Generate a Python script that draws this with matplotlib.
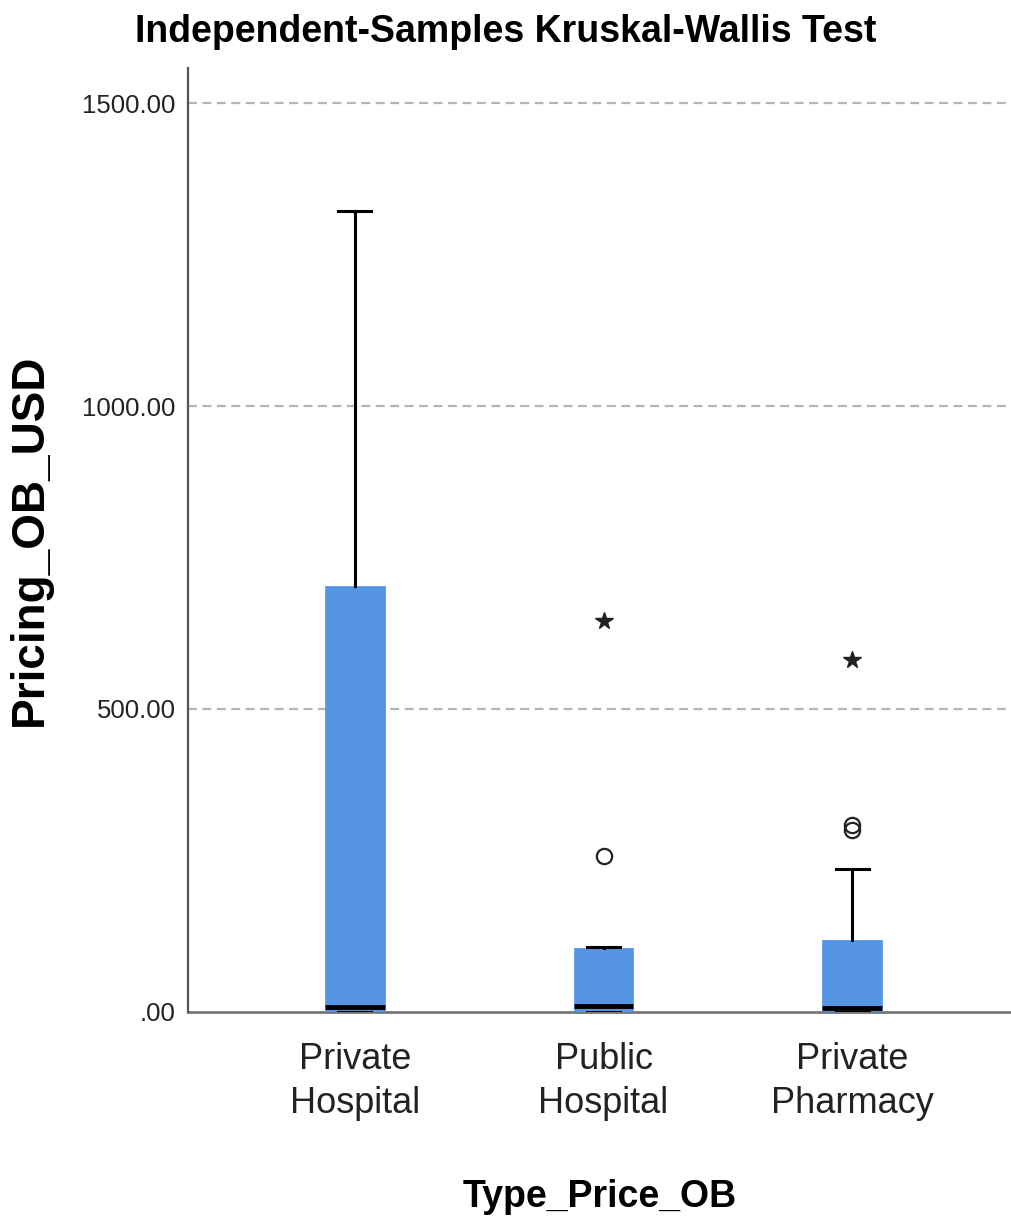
import matplotlib
matplotlib.use('Agg')
import matplotlib.pyplot as plt
from matplotlib.ticker import FuncFormatter

# box summary per group
groups = ['Private\nHospital', 'Public\nHospital', 'Private\nPharmacy']
q1 = [0, 0, 0]
med = [8, 10, 6]
q3 = [703, 105, 119]
whislo = [0, 0, 0]
whishi = [1322, 107, 236]

# outliers: circles (o) and extremes (*)
circ_x = [2, 3, 3]
circ_y = [257, 300, 308]
star_x = [2, 3]
star_y = [645, 581]

yticks = [0, 500, 1000, 1500]

box_color = '#5594e2'
plt.rcParams['font.family'] = ['Liberation Sans', 'DejaVu Sans']

fig = plt.figure(figsize=(10.11, 12.26), dpi=100)
ax = fig.add_axes([0.186, 0.1746, 0.814, 0.77])

stats = []
for i in range(len(groups)):
    stats.append(dict(med=med[i], q1=q1[i], q3=q3[i], whislo=whislo[i],
                      whishi=whishi[i], fliers=[], label=groups[i]))

ax.bxp(stats, positions=[1, 2, 3], widths=0.241, capwidths=0.133,
       patch_artist=True, showfliers=False,
       boxprops=dict(facecolor=box_color, edgecolor=box_color, linewidth=0.5),
       medianprops=dict(color='black', linewidth=3.5),
       whiskerprops=dict(color='black', linewidth=2.2),
       capprops=dict(color='black', linewidth=2.2))

ax.plot(circ_x, circ_y, linestyle='none', marker='o', markersize=11,
        markerfacecolor='none', markeredgecolor='#222222', markeredgewidth=1.6, zorder=5)
ax.plot(star_x, star_y, linestyle='none', marker='*', markersize=13,
        color='#222222', zorder=5)

ax.set_xlim(0.329, 3.639)
ax.set_ylim(0, 1558)
ax.set_yticks(yticks)

def fmt(v, pos):
    s = '%.2f' % v
    if s.startswith('0.'):
        s = s[1:]
    return s

ax.yaxis.set_major_formatter(FuncFormatter(fmt))
ax.tick_params(axis='y', length=0, pad=9, labelsize=18.5, colors='#222222')
ax.tick_params(axis='x', length=0, pad=22, labelsize=26, colors='#222222')
for t in ax.get_xticklabels():
    t.set_linespacing(1.3)

for y in yticks[1:]:
    ax.axhline(y, color='#b5b5b5', linestyle=(0, (4, 2.5)), linewidth=1.6, zorder=0)

for s in ['top', 'right']:
    ax.spines[s].set_visible(False)
ax.spines['left'].set_color('#555555')
ax.spines['left'].set_linewidth(1.6)
ax.spines['bottom'].set_color('#777777')
ax.spines['bottom'].set_linewidth(2)
ax.spines['bottom'].set_zorder(0.5)

ax.set_xlabel('Type_Price_OB', fontsize=27, fontweight='bold')
ax.xaxis.label.set_va('center')
ax.xaxis.set_label_coords(0.5, (1012 - 1197) / 944)
ax.set_ylabel('Pricing_OB_USD', fontsize=33, fontweight='bold')
ax.yaxis.label.set_va('center')
ax.yaxis.set_label_coords((30 - 188) / 823, 0.5)
fig.text(0.5, 0.974, 'Independent-Samples Kruskal-Wallis Test', ha='center', va='center',
         fontsize=27, fontweight='bold')

fig.savefig('out.png', dpi=100)
